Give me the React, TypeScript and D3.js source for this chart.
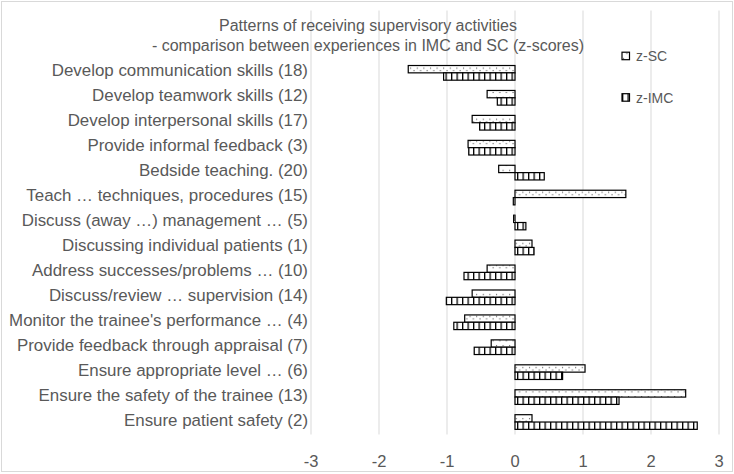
import { useEffect, useRef } from "react";
import * as d3 from "d3";

// categories top to bottom (two blank slots sit above them in the plot)
const categories = [
  "Develop communication skills (18)",
  "Develop teamwork skills (12)",
  "Develop interpersonal skills (17)",
  "Provide informal feedback (3)",
  "Bedside teaching. (20)",
  "Teach … techniques, procedures (15)",
  "Discuss (away …) management … (5)",
  "Discussing individual patients (1)",
  "Address successes/problems … (10)",
  "Discuss/review … supervision (14)",
  "Monitor the trainee's performance … (4)",
  "Provide feedback through appraisal (7)",
  "Ensure appropriate level … (6)",
  "Ensure the safety of the trainee (13)",
  "Ensure patient safety (2)",
];

const zSC = [-1.57, -0.41, -0.63, -0.69, -0.24, 1.63, -0.02, 0.25, -0.41, -0.63, -0.74, -0.35, 1.03, 2.51, 0.25];
const zIMC = [-1.05, -0.26, -0.52, -0.68, 0.43, -0.025, 0.16, 0.28, -0.75, -1.01, -0.9, -0.6, 0.7, 1.53, 2.68];

const xTicks = [-3, -2, -1, 0, 1, 2, 3];
const seriesNames = ["z-SC", "z-IMC"];
const titleLines = [
  "Patterns of receiving supervisory activities",
  "- comparison between experiences in IMC and SC (z-scores)",
];

export default function App() {
  const svgRef = useRef<SVGSVGElement | null>(null);

  useEffect(() => {
    if (!svgRef.current) return;
    const svg = d3.select(svgRef.current);
    svg.selectAll("*").remove();

    const width = 734;
    const height = 474;
    const font = "'Liberation Sans', Arial, sans-serif";
    const textColor = "#595959";

    svg.attr("width", width).attr("height", height);

    // patterns
    const defs = svg.append("defs");
    const dots = defs
      .append("pattern")
      .attr("id", "dots")
      .attr("patternUnits", "userSpaceOnUse")
      .attr("width", 6.6)
      .attr("height", 7.3);
    dots.append("rect").attr("width", 6.6).attr("height", 7.3).attr("fill", "white");
    dots.append("rect").attr("x", 1).attr("y", 2).attr("width", 1).attr("height", 1).attr("fill", "#333");
    dots.append("rect").attr("x", 4.3).attr("y", 4.5).attr("width", 1).attr("height", 1).attr("fill", "#333");

    const stripes = defs
      .append("pattern")
      .attr("id", "stripes")
      .attr("patternUnits", "userSpaceOnUse")
      .attr("width", 5.5)
      .attr("height", 8);
    stripes.append("rect").attr("width", 5.5).attr("height", 8).attr("fill", "white");
    stripes.append("rect").attr("x", 0).attr("width", 1.3).attr("height", 8).attr("fill", "black");

    // chart border
    svg
      .append("rect")
      .attr("x", 1.5)
      .attr("y", 1.5)
      .attr("width", width - 3)
      .attr("height", height - 4)
      .attr("fill", "white")
      .attr("stroke", "#d9d9d9");

    const xScale = d3.scaleLinear().domain([-3, 3]).range([311, 719]);
    const slots = ["_a", "_b", ...categories];
    const yScale = d3.scaleBand().domain(slots).range([10.5, 434.5]).padding(0);
    const inner = d3
      .scaleBand()
      .domain(seriesNames)
      .range([0, yScale.bandwidth()])
      .paddingInner(0)
      .paddingOuter(0.7);

    // gridlines
    svg
      .append("g")
      .selectAll("line")
      .data(xTicks)
      .enter()
      .append("line")
      .attr("x1", (d) => xScale(d))
      .attr("x2", (d) => xScale(d))
      .attr("y1", 10.5)
      .attr("y2", 434.5)
      .attr("stroke", "#d9d9d9")
      .attr("stroke-width", 1);

    // tick labels
    svg
      .append("g")
      .selectAll("text")
      .data(xTicks)
      .enter()
      .append("text")
      .attr("x", (d) => xScale(d))
      .attr("y", 461)
      .attr("text-anchor", "middle")
      .attr("dominant-baseline", "central")
      .attr("fill", textColor)
      .style("font-family", font)
      .style("font-size", "16.5px")
      .text((d) => String(d));

    // category labels
    svg
      .append("g")
      .selectAll("text")
      .data(categories)
      .enter()
      .append("text")
      .attr("x", 308)
      .attr("y", (d) => (yScale(d) ?? 0) + yScale.bandwidth() / 2 - 2)
      .attr("text-anchor", "end")
      .attr("dominant-baseline", "central")
      .attr("fill", textColor)
      .style("font-family", font)
      .style("font-size", "16.9px")
      .text((d) => d);

    // bars
    const series = [
      { name: "z-SC", values: zSC, fill: "url(#dots)" },
      { name: "z-IMC", values: zIMC, fill: "url(#stripes)" },
    ];
    series.forEach((s) => {
      svg
        .append("g")
        .selectAll("rect")
        .data(s.values)
        .enter()
        .append("rect")
        .attr("x", (d) => xScale(Math.min(0, d)))
        .attr("width", (d) => Math.abs(xScale(d) - xScale(0)))
        .attr("y", (_, i) => (yScale(categories[i]) ?? 0) + (inner(s.name) ?? 0))
        .attr("height", inner.bandwidth())
        .attr("fill", s.fill)
        .attr("stroke", "black")
        .attr("stroke-width", 1.2);
    });

    // title
    svg
      .append("g")
      .selectAll("text")
      .data(titleLines)
      .enter()
      .append("text")
      .attr("x", 368)
      .attr("y", (_, i) => 25 + i * 20)
      .attr("text-anchor", "middle")
      .attr("dominant-baseline", "central")
      .attr("fill", textColor)
      .style("font-family", font)
      .style("font-size", "16px")
      .text((d) => d);

    // legend
    const legend = svg
      .append("g")
      .selectAll("g")
      .data(series)
      .enter()
      .append("g")
      .attr("transform", (_, i) => `translate(622, ${56 + i * 41.5})`);
    legend
      .append("rect")
      .attr("x", 0)
      .attr("y", -3.8)
      .attr("width", 7.5)
      .attr("height", 7.5)
      .attr("fill", (d) => d.fill)
      .attr("stroke", "black")
      .attr("stroke-width", 1.2);
    legend
      .append("text")
      .attr("x", 14)
      .attr("y", 0)
      .attr("dominant-baseline", "central")
      .attr("fill", textColor)
      .style("font-family", font)
      .style("font-size", "14px")
      .text((d) => d.name);
  }, []);

  return (
    <div style={{ position: "absolute", left: 0, top: 0 }}>
      <svg ref={svgRef}></svg>
    </div>
  );
}
